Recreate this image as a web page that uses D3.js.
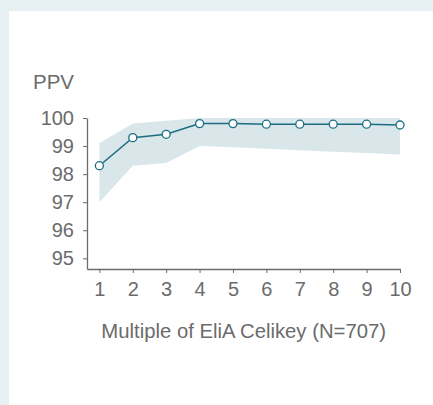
<!DOCTYPE html>
<html>
<head>
<meta charset="utf-8">
<script src="https://cdn.jsdelivr.net/npm/d3@7"></script>
<style>
  html, body { margin: 0; padding: 0; background: #e7f0f3; }
  #chart { position: absolute; left: 9px; top: 11px; width: 424px; height: 394px; background: #fff; }
  text { font-family: "Liberation Sans", Arial, sans-serif; fill: #6b6b6b; }
</style>
</head>
<body>
<div id="chart"></div>
<script>
//Datos
const multiples = [1, 2, 3, 4, 5, 6, 7, 8, 9, 10];
const ppv = [98.3, 99.3, 99.42, 99.8, 99.8, 99.78, 99.78, 99.78, 99.78, 99.75];
const ppvUpper = [99.1, 99.8, 99.9, 100, 100, 100, 100, 100, 100, 100];
const ppvLower = [97.0, 98.3, 98.4, 99.0, 98.96, 98.9, 98.85, 98.8, 98.75, 98.7];
const yTicks = [95, 96, 97, 98, 99, 100];

const COLOR_LINE = '#1c6d82',
COLOR_BAND = '#d9e7eb',
COLOR_AXIS = '#6b6b6b';

//Márgenes (relativos al panel blanco)
let margin = {top: 107, right: 33, bottom: 136, left: 78},
    width = 424 - margin.left - margin.right,
    height = 394 - margin.top - margin.bottom;

let svg = d3.select('#chart')
    .append('svg')
        .attr('width', 424)
        .attr('height', 394)
    .append('g')
        .attr('transform', 'translate(' + margin.left + ',' + margin.top + ')');

let x = d3.scaleLinear()
    .domain([0.63, 10])
    .range([0, width]);

let y = d3.scaleLinear()
    .domain([94.62, 100])
    .range([height, 0]);

let data = multiples.map(function(m, i) { return {m: m, v: ppv[i], lo: ppvLower[i], hi: ppvUpper[i]}; });

//Banda de confianza
svg.append('path')
    .datum(data)
    .attr('fill', COLOR_BAND)
    .attr('d', d3.area()
        .x(function(d) { return x(d.m); })
        .y0(function(d) { return y(d.lo); })
        .y1(function(d) { return y(d.hi); }));

//Ejes
let xAxis = svg.append('g')
    .attr('transform', 'translate(0,' + height + ')')
    .call(d3.axisBottom(x).tickValues(multiples).tickFormat(d3.format('d')).tickSize(4).tickPadding(9).tickSizeOuter(0));

let yAxis = svg.append('g')
    .call(d3.axisLeft(y).tickValues(yTicks).tickFormat(d3.format('d')).tickSize(4).tickPadding(9).tickSizeOuter(0));

[xAxis, yAxis].forEach(function(a) {
    a.select('.domain').attr('stroke', COLOR_AXIS).attr('stroke-width', 1.3);
    a.selectAll('.tick line').attr('stroke', COLOR_AXIS);
    a.selectAll('.tick text').style('font-size', '20px').attr('fill', '#6b6b6b');
});

//Línea
svg.append('path')
    .datum(data)
    .attr('fill', 'none')
    .attr('stroke', COLOR_LINE)
    .attr('stroke-width', 1.5)
    .attr('d', d3.line()
        .x(function(d) { return x(d.m); })
        .y(function(d) { return y(d.v); }));

svg.append('g')
    .selectAll('circle')
    .data(data)
    .enter()
    .append('circle')
    .attr('cx', function(d) { return x(d.m); })
    .attr('cy', function(d) { return y(d.v); })
    .attr('r', 4)
    .attr('fill', '#fff')
    .attr('stroke', COLOR_LINE)
    .attr('stroke-width', 1.3);

//Títulos
svg.append('text')
    .attr('x', -13)
    .attr('y', -29)
    .attr('text-anchor', 'end')
    .style('font-size', '20.5px')
    .text('PPV');

svg.append('text')
    .attr('x', (x(1) + x(10)) / 2 - 6)
    .attr('y', height + 69)
    .attr('text-anchor', 'middle')
    .style('font-size', '20.3px')
    .text('Multiple of EliA Celikey (N=707)');
</script>
</body>
</html>
